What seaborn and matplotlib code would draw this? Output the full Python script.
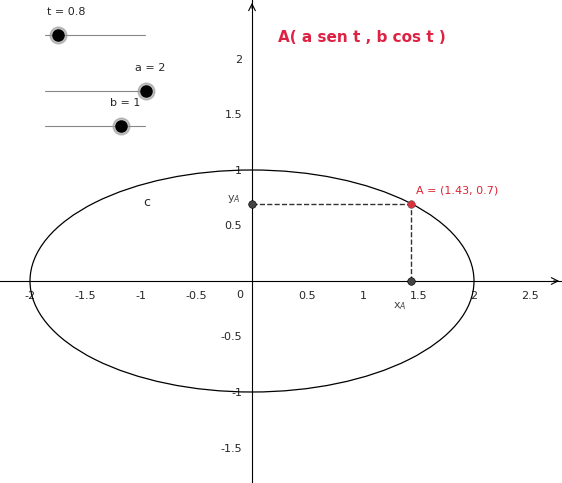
import matplotlib
matplotlib.use("Agg")
import matplotlib.pyplot as plt
import seaborn as sns
import numpy as np
from matplotlib.patches import Ellipse

sns.set_theme(style="white")
plt.rcParams['font.family'] = ['DejaVu Sans']

a = 2
b = 1
t = 0.8
x_ticks = [-2, -1.5, -1, -0.5, 0.5, 1, 1.5, 2, 2.5]
y_ticks = [-1.5, -1, -0.5, 0.5, 1, 1.5, 2]

W, H = 562, 483
fig = plt.figure(figsize=(W/100, H/100), dpi=100)
ax = fig.add_axes([0, 0, 1, 1])
sc = 111.0
ax.set_xlim(-252/sc, (W-252)/sc)
ax.set_ylim(-(H-281)/sc, 281/sc)

for s in ['top', 'right']:
    ax.spines[s].set_visible(False)
ax.spines['left'].set_position(('data', 0))
ax.spines['bottom'].set_position(('data', 0))
ax.spines['left'].set_color('black')
ax.spines['bottom'].set_color('black')
ax.spines['left'].set_linewidth(0.8)
ax.spines['bottom'].set_linewidth(0.8)
ax.set_xticks(x_ticks)
ax.set_yticks(y_ticks)
ax.set_xticklabels([f"{v:g}" for v in x_ticks], fontsize=8)
ax.set_yticklabels([f"{v:g}" for v in y_ticks], fontsize=8)
ax.tick_params(axis='both', length=4, width=0.8, color='black', direction='inout', pad=5)
ax.text(-0.08, -0.08, "0", fontsize=8, ha='right', va='top')
xl, yl = ax.get_xlim(), ax.get_ylim()
ax.annotate("", xy=(xl[1], 0), xytext=(xl[1]-0.1, 0),
            arrowprops=dict(arrowstyle="->", lw=0.8, color='black'))
ax.annotate("", xy=(0, yl[1]), xytext=(0, yl[1]-0.1),
            arrowprops=dict(arrowstyle="->", lw=0.8, color='black'))

ax.add_patch(Ellipse((0, 0), 2*a, 2*b, fill=False, color='black', lw=0.9))
ax.text(-0.98, 0.68, "c", fontsize=9)

Ax, Ay = a*np.sin(t), b*np.cos(t)
ax.plot([0, Ax], [Ay, Ay], ls='--', color='#333333', lw=1)
ax.plot([Ax, Ax], [0, Ay], ls='--', color='#333333', lw=1)
sns.scatterplot(x=[0, Ax], y=[Ay, 0], color='#444444', s=30, edgecolor='black', ax=ax, zorder=5)
sns.scatterplot(x=[Ax], y=[Ay], color='#e0303f', s=30, edgecolor='#555555', ax=ax, zorder=6)
ax.text(Ax+0.04, Ay+0.09, f"A = ({Ax:.2f}, {Ay:.1f})", color='#dd2233', fontsize=8)
ax.text(-0.1, Ay+0.02, "y$_A$", color='#444444', fontsize=8, ha='right')
ax.text(Ax-0.04, -0.17, "x$_A$", color='#444444', fontsize=8, va='top', ha='right')
ax.text(0.23, 2.15, "A( a sen t , b cos t )", color='#dd2244', fontsize=11, fontweight='bold')

# sliders (figure pixels)
def slider(y, knob, label, lx):
    ax.plot([45/W, 145/W], [1-y/H, 1-y/H], color='#888888', lw=0.8, transform=fig.transFigure)
    ax.plot([knob/W], [1-y/H], 'o', ms=12, color='#999999', alpha=0.6, transform=fig.transFigure)
    ax.plot([knob/W], [1-y/H], 'o', ms=8, color='black', transform=fig.transFigure)
    ax.text(lx/W, 1-(y-20)/H, label, fontsize=8, transform=fig.transFigure)
slider(35, 58, f"t = {t}", 47)
slider(91, 146, f"a = {a}", 135)
slider(126, 121, f"b = {b}", 110)

fig.savefig("out.png", dpi=100)
